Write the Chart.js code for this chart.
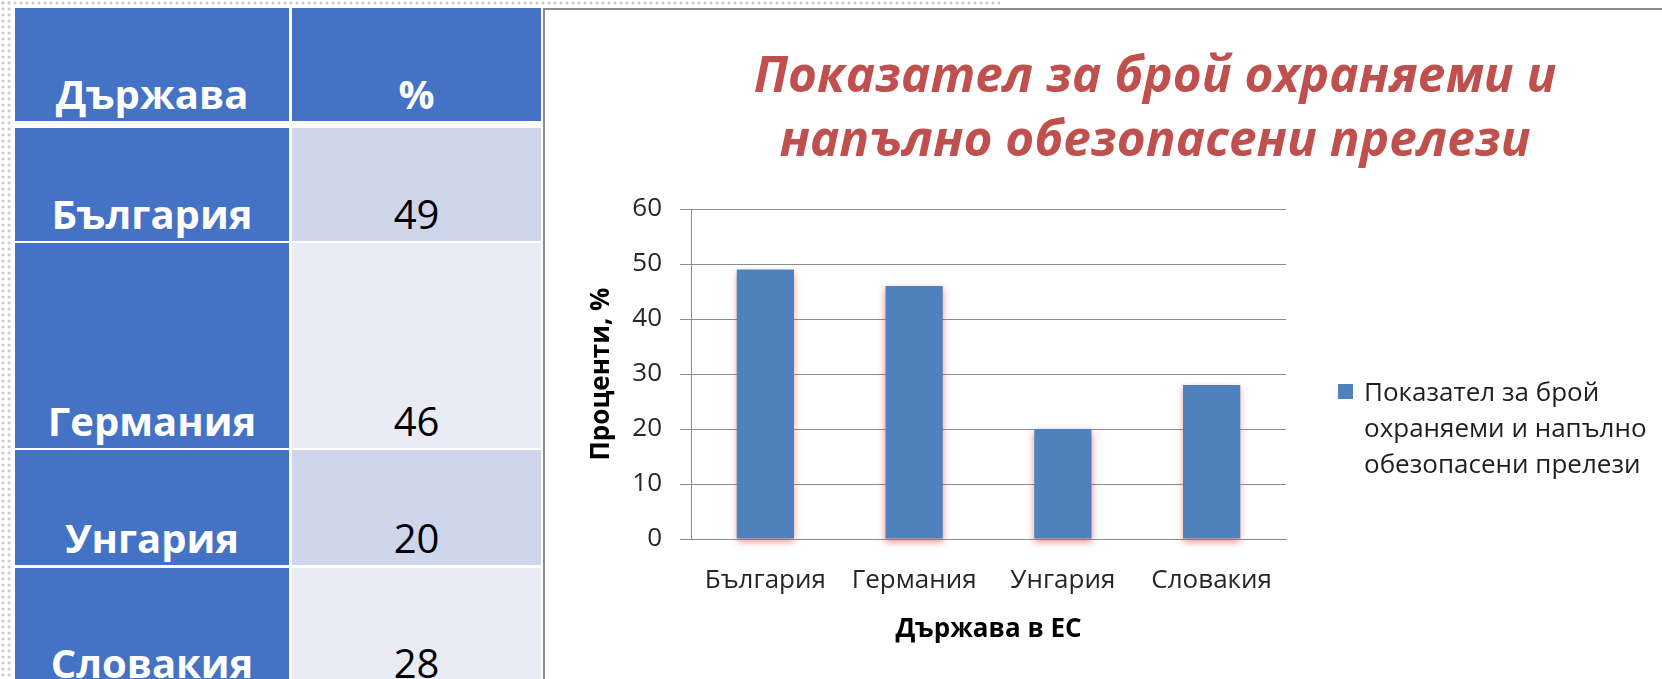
<!DOCTYPE html>
<html lang="bg">
<head>
<meta charset="utf-8">
<title>Показател за брой охраняеми и напълно обезопасени прелези</title>
<script src="https://cdn.jsdelivr.net/npm/chart.js@4.4.1/dist/chart.umd.min.js"></script>
<style>
    html, body {
        margin: 0;
        padding: 0;
        width: 1662px;
        height: 679px;
        overflow: hidden;
        background: #fff;
        font-family: 'Open Sans', sans-serif;
    }
    .dots {
        position: absolute;
        background-image: radial-gradient(circle, #cdcdcd 1.3px, transparent 1.8px);
        background-size: 6px 6px;
    }
    #dotsLeft { left: 0; top: 0; width: 12px; height: 679px; }
    #dotsTop { left: 0; top: 0; width: 1000px; height: 6px; }
    .cell {
        position: absolute;
        display: flex;
        align-items: flex-end;
        justify-content: center;
        font-size: 40px;
        line-height: 54px;
        color: #000;
    }
    .head { background: #4472C4; color: #fff; font-weight: 700; }
    .dark { background: #CFD5EA; }
    .light { background: #E9EBF5; }
    #frame {
        position: absolute;
        left: 543px;
        top: 8px;
        width: 1200px;
        height: 700px;
        border-left: 2px solid #8c8c8c;
        border-top: 2px solid #8c8c8c;
        background: #fff;
    }
    #chartWrap { position: absolute; left: 545px; top: 10px; }
    #legendSwatch {
        position: absolute;
        left: 1338px;
        top: 384px;
        width: 15px;
        height: 15px;
        background: #4F81BD;
    }
    #legendText {
        position: absolute;
        left: 1364px;
        top: 373px;
        font-size: 26px;
        line-height: 36px;
        color: #1f1f1f;
        white-space: nowrap;
    }
</style>
</head>
<body>
<div id="dotsLeft" class="dots"></div>
<div id="dotsTop" class="dots"></div>
<div id="table"></div>
<div id="frame"></div>
<div id="chartWrap"><canvas id="barChart" width="1220" height="669"></canvas></div>
<div id="legendSwatch"></div>
<div id="legendText"></div>

<script>
// Data
const countries = ["България", "Германия", "Унгария", "Словакия"];
const percents = [49, 46, 20, 28];
const yTicks = [0, 10, 20, 30, 40, 50, 60];
const tableHeaders = ["Държава", "%"];
const chartTitle = ["Показател за брой охраняеми и", "напълно обезопасени прелези"];
const seriesName = "Показател за брой охраняеми и напълно обезопасени прелези";
const legendLines = ["Показател за брой", "охраняеми и напълно", "обезопасени прелези"];
const xTitle = "Държава в ЕС";
const yTitle = "Проценти, %";

// Table on the left (row/column edges in px)
const rowEdges = [[8, 121], [128, 241], [243, 448], [450, 565], [568, 690]];
const colEdges = [[15, 289], [292, 541]];

function addCell(text, row, col, cls) {
    const div = document.createElement("div");
    div.className = "cell " + cls;
    div.style.left = colEdges[col][0] + "px";
    div.style.width = (colEdges[col][1] - colEdges[col][0]) + "px";
    div.style.top = rowEdges[row][0] + "px";
    div.style.height = (rowEdges[row][1] - rowEdges[row][0]) + "px";
    div.textContent = text;
    document.getElementById("table").appendChild(div);
}

tableHeaders.forEach((h, i) => addCell(h, 0, i, "head"));
countries.forEach((c, i) => {
    addCell(c, i + 1, 0, "head");
    addCell(String(percents[i]), i + 1, 1, i % 2 === 0 ? "dark" : "light");
});

// Legend (wrapped like the original)
document.getElementById("legendText").innerHTML = legendLines.join("<br>");

// Soft reddish glow under the bars
const barGlow = {
    id: "barGlow",
    beforeDatasetsDraw(chart) {
        const ctx = chart.ctx;
        ctx.save();
        ctx.shadowColor = "rgba(215, 70, 70, 0.6)";
        ctx.shadowBlur = 7;
        ctx.shadowOffsetY = 3;
    },
    afterDatasetsDraw(chart) {
        chart.ctx.restore();
    }
};

Chart.defaults.font.family = "'Open Sans', sans-serif";
Chart.defaults.color = "#262626";

const gridGray = "#8c8c8c";

new Chart(document.getElementById("barChart"), {
    type: "bar",
    data: {
        labels: countries,
        datasets: [{
            label: seriesName,
            data: percents,
            backgroundColor: "#4F81BD",
            borderWidth: 0,
            barPercentage: 0.385,
            categoryPercentage: 1.0,
            clip: false
        }]
    },
    options: {
        responsive: false,
        animation: false,
        layout: { padding: 0 },
        plugins: {
            legend: { display: false },
            tooltip: { enabled: false },
            title: {
                display: true,
                text: chartTitle,
                color: "#C0504D",
                font: { size: 49.5, weight: "bold", style: "italic", lineHeight: "64px" },
                padding: { top: 36, bottom: 35 }
            }
        },
        scales: {
            x: {
                grid: { display: false, drawTicks: false, tickLength: 0 },
                border: { display: true, color: gridGray, width: 1 },
                ticks: { font: { size: 26 }, padding: 26, autoSkip: false, maxRotation: 0 },
                title: {
                    display: true,
                    text: xTitle,
                    color: "#000",
                    font: { size: 26, weight: "bold" },
                    padding: { top: 0, bottom: 34 }
                },
                afterFit(scale) { scale.height = 140; }
            },
            y: {
                min: yTicks[0],
                max: yTicks[yTicks.length - 1],
                ticks: { stepSize: yTicks[1] - yTicks[0], font: { size: 26 }, padding: 18 },
                grid: { color: gridGray, lineWidth: 1, drawTicks: true, tickLength: 11 },
                border: { display: true, color: gridGray, width: 1 },
                title: {
                    display: true,
                    text: yTitle,
                    color: "#000",
                    font: { size: 26, weight: "bold" },
                    padding: { top: 41, bottom: 0 }
                },
                afterFit(scale) { scale.width = 146; }
            },
            // empty right-hand axis that keeps room for the legend
            legendSpace: {
                type: "linear",
                position: "right",
                ticks: { display: false },
                grid: { display: false, drawTicks: false },
                border: { display: false },
                afterFit(scale) { scale.width = 479; }
            }
        }
    },
    plugins: [barGlow]
});
</script>
</body>
</html>
